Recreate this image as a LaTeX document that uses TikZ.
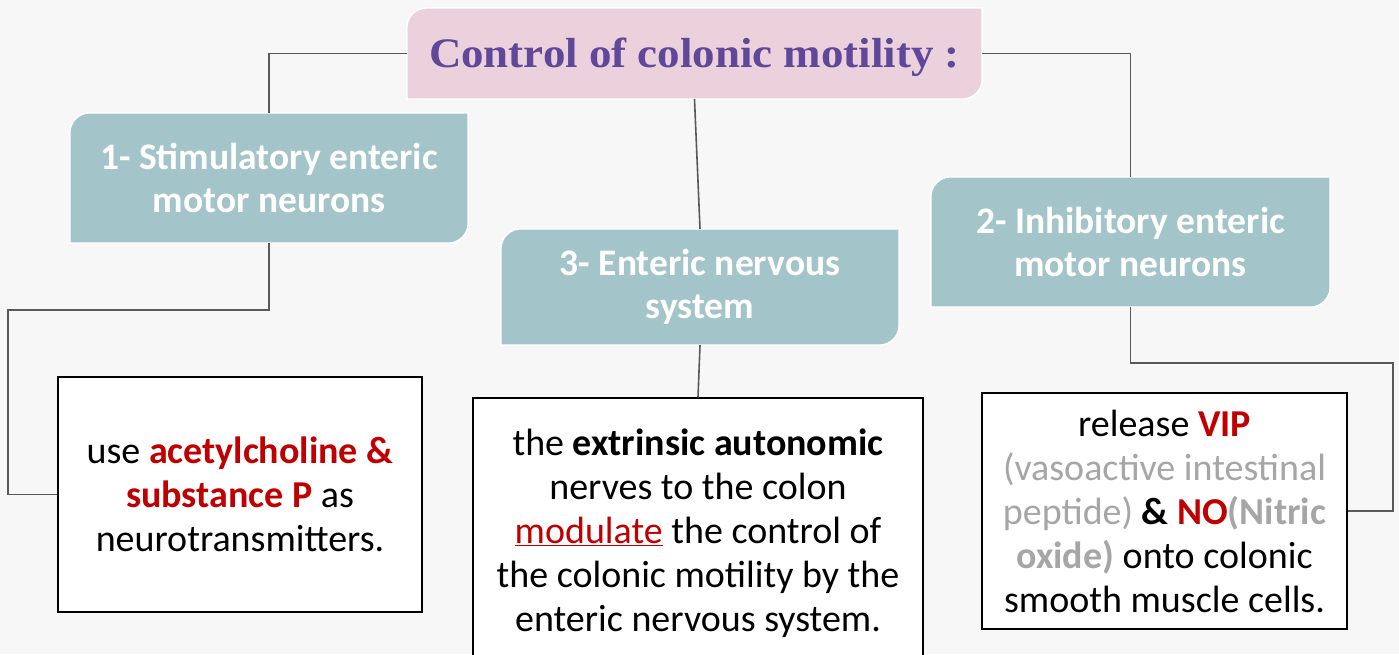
\documentclass[tikz,border=0pt]{standalone}
\usepackage{fontspec}
\usepackage{graphicx}
\setmainfont{Carlito}
\newfontfamily\titlefont{Liberation Serif}
\usetikzlibrary{backgrounds}
\definecolor{bgc}{HTML}{F7F7F7}
\definecolor{pinkc}{HTML}{EAD1DC}
\definecolor{purplec}{HTML}{60479A}
\definecolor{tealc}{HTML}{A3C4C9}
\definecolor{redc}{HTML}{C00000}
\definecolor{grayt}{HTML}{A6A6A6}
\definecolor{linec}{HTML}{595959}
\newcommand{\snipbox}[3]{%
  \path[fill=#2,draw=white,line width=1.5pt]
    ([yshift=-#3]#1.north west) arc[start angle=180,end angle=90,radius=#3]
    -- (#1.north east) -- ([yshift=#3]#1.south east)
    arc[start angle=0,end angle=-90,radius=#3] -- (#1.south west) -- cycle;}
\tikzset{
  conn/.style={draw=linec,line width=1.6pt},
  tealbox/.style={inner sep=0pt,align=center,text=white,font=\fontsize{37.5}{43}\selectfont\bfseries},
  whitebox/.style={draw=black,line width=1.5pt,fill=white,inner sep=0pt,align=center,font=\fontsize{38}{44}\selectfont},
}
\begin{document}
\begin{tikzpicture}[x=1pt,y=1pt]
\useasboundingbox (0,0) rectangle (1399,654);
% title
\node[inner sep=0pt,minimum width=575pt,minimum height=91pt,text=purplec,font=\titlefont\fontsize{42}{44}\selectfont\bfseries] (title) at (694.5,600.5) {\raisebox{-4pt}[\height][\depth]{\scalebox{1.07}[1]{Control of colonic motility :}}};
% teal boxes
\node[tealbox,minimum width=398pt,minimum height=130pt] (b1) at (269,476) {1- Stimulatory enteric\\motor neurons};
\node[tealbox,minimum width=398pt,minimum height=116pt] (b3) at (700,367) {3- Enteric nervous\\system};
\node[tealbox,minimum width=399pt,minimum height=130pt] (b2) at (1130.5,412) {2- Inhibitory enteric\\motor neurons};
\begin{scope}[on background layer]
\fill[bgc] (0,0) rectangle (1399,654);
\snipbox{title}{pinkc}{20pt}
\snipbox{b1}{tealc}{20pt}
\snipbox{b3}{tealc}{20pt}
\snipbox{b2}{tealc}{20pt}
\end{scope}
% white boxes
\node[whitebox,minimum width=364pt,minimum height=235pt] (w1) at (240,159.5) {use \textcolor{redc}{\bfseries acetylcholine \&}\\\textcolor{redc}{\bfseries substance P} as\\neurotransmitters.};
\node[whitebox,minimum width=450pt,minimum height=270pt] (w3) at (698,121) {the \textbf{extrinsic autonomic}\\nerves to the colon\\\textcolor{redc}{\underline{modulate}} the control of\\the colonic motility by the\\enteric nervous system.};
\node[whitebox,minimum width=365pt,minimum height=236pt] (w2) at (1164.5,143) {release \textcolor{redc}{\bfseries VIP}\\\textcolor{grayt}{(vasoactive intestinal}\\\textcolor{grayt}{peptide)} \textbf{\&} \textcolor{redc}{\bfseries NO}\textcolor{grayt}{\bfseries(Nitric}\\\textcolor{grayt}{\bfseries oxide)} onto colonic\\smooth muscle cells.};
% connectors
\draw[conn] (title.west) -| (b1.north);
\draw[conn] (title.east) -| (b2.north);
\draw[conn] (title.south) -- (b3.north);
\draw[conn] (b1.south) |- (8,344) |- (w1.west);
\draw[conn] (b2.south) |- (1393,291) |- (w2.east);
\draw[conn] (b3.south) -- (w3.north);
\end{tikzpicture}
\end{document}
